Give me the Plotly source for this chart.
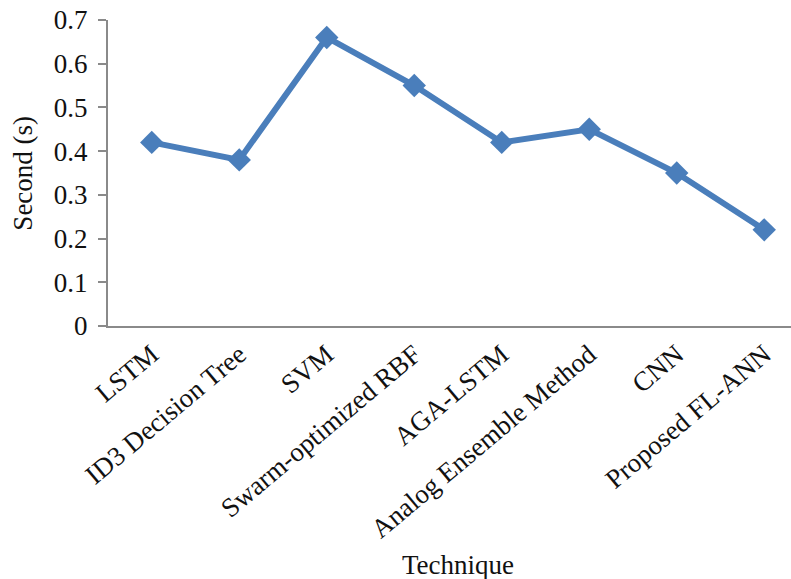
import plotly.graph_objects as go

techniques = [
    "LSTM",
    "ID3 Decision Tree",
    "SVM",
    "Swarm-optimized RBF",
    "AGA-LSTM",
    "Analog Ensemble Method",
    "CNN",
    "Proposed FL-ANN",
]
seconds = [0.42, 0.38, 0.66, 0.55, 0.42, 0.45, 0.35, 0.22]
y_ticks = [0, 0.1, 0.2, 0.3, 0.4, 0.5, 0.6, 0.7]
y_tick_text = ["0", "0.1", "0.2", "0.3", "0.4", "0.5", "0.6", "0.7"]

FONT = "Liberation Serif, Times New Roman, serif"
BLUE = "#4a7ebb"
AXIS_GREY = "#8a8a8a"
TEXT = "#111111"

fig = go.Figure(
    go.Scatter(
        x=techniques,
        y=seconds,
        mode="lines+markers",
        line=dict(color=BLUE, width=6),
        marker=dict(symbol="diamond", size=18, color=BLUE),
        cliponaxis=False,
        showlegend=False,
    )
)

fig.update_layout(
    width=791,
    height=579,
    margin=dict(l=108, r=0, t=20, b=253),
    paper_bgcolor="white",
    plot_bgcolor="white",
    font=dict(family=FONT, size=27, color=TEXT),
    xaxis=dict(
        type="category",
        range=[-0.5, 7.306],
        tickangle=-40,
        showgrid=False,
        showline=True,
        linecolor=AXIS_GREY,
        linewidth=2,
        ticks="",
        tickfont=dict(family=FONT, size=27, color=TEXT),
    ),
    yaxis=dict(
        range=[0, 0.7],
        tickvals=y_ticks,
        ticktext=y_tick_text,
        showgrid=False,
        zeroline=False,
        showline=True,
        linecolor=AXIS_GREY,
        linewidth=2,
        ticks="outside",
        ticklen=8,
        tickwidth=2,
        tickcolor=AXIS_GREY,
        ticklabelstandoff=5,
        tickfont=dict(family=FONT, size=27, color=TEXT),
    ),
    annotations=[
        dict(
            text="Technique",
            xref="x",
            yref="paper",
            x=3.5,
            y=-0.781,
            xanchor="center",
            yanchor="middle",
            showarrow=False,
            font=dict(family=FONT, size=27, color=TEXT),
        ),
        dict(
            text="Second (s)",
            xref="paper",
            yref="paper",
            x=-0.125,
            y=0.50,
            xanchor="center",
            yanchor="middle",
            textangle=-90,
            showarrow=False,
            font=dict(family=FONT, size=27, color=TEXT),
        ),
    ],
)

fig.write_html("out.html")
